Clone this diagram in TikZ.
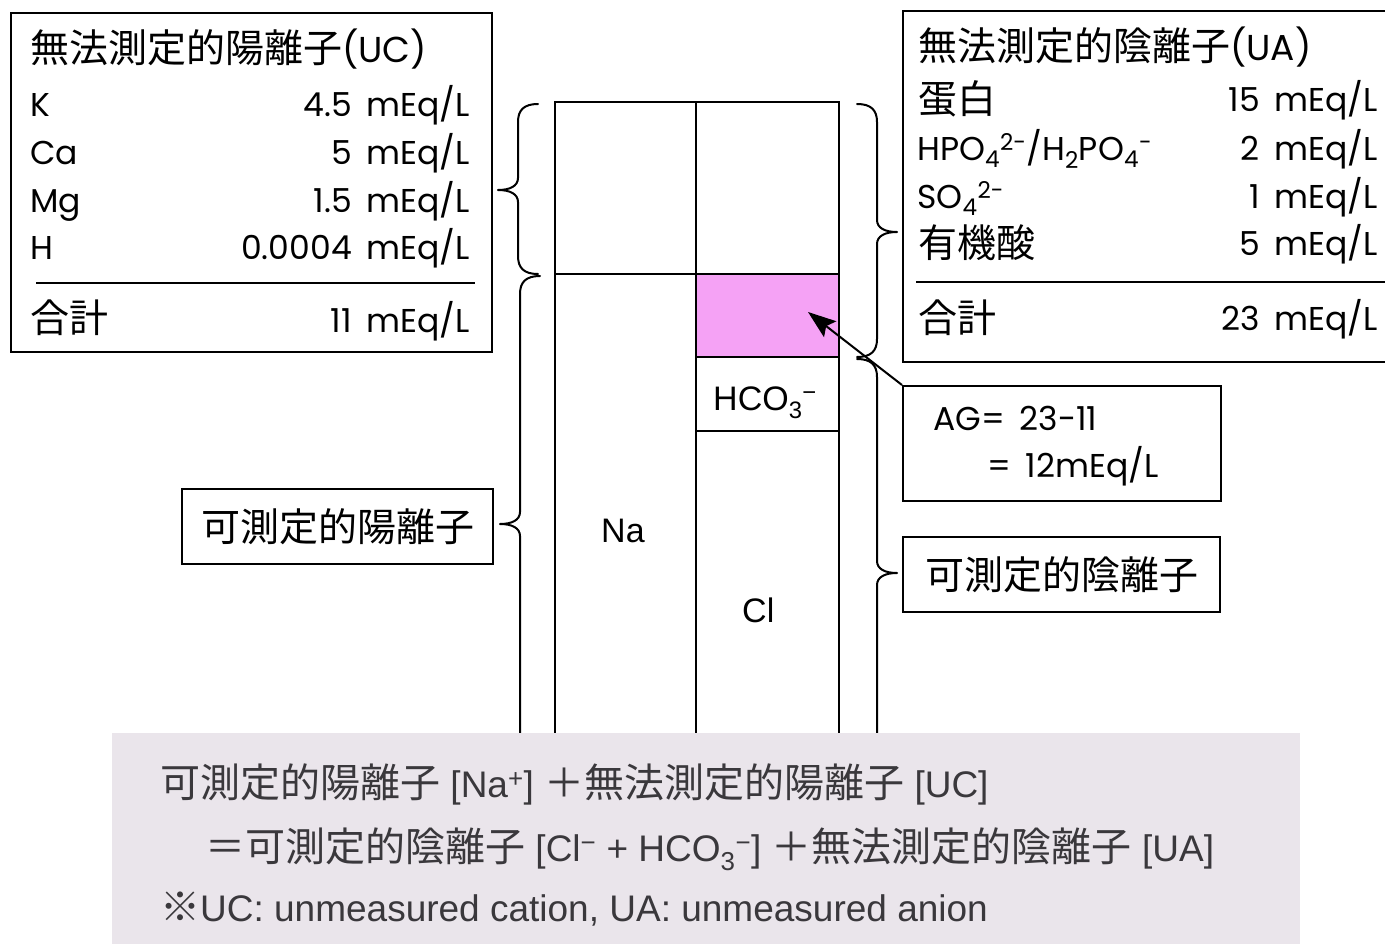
\documentclass[tikz,border=0pt]{standalone}
\usepackage{fontspec}
\setmainfont{Poppins}[Numbers=Monospaced]
\newfontfamily\jp{Noto Sans CJK JP}
\newfontfamily\hel{Liberation Sans}
\usetikzlibrary{arrows.meta}
\definecolor{agpink}{RGB}{245,162,245}
\definecolor{notebg}{RGB}{234,229,235}
\definecolor{notetxt}{RGB}{58,56,60}
\newcommand\ntj{\fontsize{40}{42}\selectfont\jp}
\newcommand\braceLeft[4]{%
  \draw[brc] ({#1+20},#2) .. controls ({#1+6},#2) and (#1,{#2+6}) .. (#1,{#2+18})
    -- (#1,{#3-12}) .. controls (#1,{#3-4}) and ({#1-8},#3) .. ({#1-20},#3)
    .. controls ({#1-8},#3) and (#1,{#3+4}) .. (#1,{#3+12})
    -- (#1,{#4-18}) .. controls (#1,{#4-6}) and ({#1+6},#4) .. ({#1+20},#4);}
\newcommand\braceRight[4]{%
  \draw[brc] ({#1-20},#2) .. controls ({#1-6},#2) and (#1,{#2+6}) .. (#1,{#2+18})
    -- (#1,{#3-12}) .. controls (#1,{#3-4}) and ({#1+8},#3) .. ({#1+20},#3)
    .. controls ({#1+8},#3) and (#1,{#3+4}) .. (#1,{#3+12})
    -- (#1,{#4-18}) .. controls (#1,{#4-6}) and ({#1-6},#4) .. ({#1-20},#4);}
\newcommand\unitsp{\hspace{0.45em}}
\begin{document}
\begin{tikzpicture}[x=1pt,y=-1pt,
  frame/.style={draw=black,line width=2pt,inner sep=0pt},
  col/.style={draw=black,line width=2.2pt},
  brc/.style={draw=black,line width=2pt,line join=round,line cap=round},
  tx/.style={inner sep=0pt,font=\fontsize{33}{38}\selectfont},
  cj/.style={inner sep=0pt,font=\fontsize{39}{44}\selectfont\jp},
  hv/.style={inner sep=0pt,font=\fontsize{34}{38}\selectfont\hel},
  nt/.style={inner sep=0pt,text=notetxt,font=\fontsize{37}{40}\selectfont\hel}
]
\useasboundingbox (0,0) rectangle (1385,943);
\clip (0,0) rectangle (1385,943);

% ---- column chart ----
\braceLeft{518}{104}{190}{274}
\braceLeft{520}{276}{524}{800}
\braceRight{877}{104}{232}{357}
\braceRight{877}{359}{573}{800}
\fill[agpink] (696,274) rectangle (839,357);
\draw[col] (555,800) -- (555,102) -- (839,102) -- (839,800);
\draw[col] (696,102) -- (696,800);
\draw[col] (555,274) -- (839,274);
\draw[col] (696,357) -- (839,357);
\draw[col] (696,431) -- (839,431);
\node[hv,anchor=base west] (hco) at (713,410) {HCO\textsubscript{3}\textsuperscript{−}};
\node[hv,anchor=base west] (na) at (601,542) {Na};
\node[hv,anchor=base west] (cl) at (742,622) {Cl};
\coordinate (agtip) at (808,312);

% ---- UC box ----
\node[frame,fill=white,minimum width=481pt,minimum height=339pt] (ucbox) at (251.5,182.5) {};
\node[cj,anchor=base west] (uct) at (30,62) {無法測定的陽離子{\rmfamily\fontsize{36}{40}\selectfont(UC)}};
\node[tx,anchor=base west] (uk) at (30,116) {K};
\node[tx,anchor=base east] (ukv) at (470,116) {4.5\unitsp mEq/L};
\node[tx,anchor=base west] (uca) at (30,164) {Ca};
\node[tx,anchor=base east] (ucav) at (470,164) {5\unitsp mEq/L};
\node[tx,anchor=base west] (umg) at (30,212) {Mg};
\node[tx,anchor=base east] (umgv) at (470,212) {1.5\unitsp mEq/L};
\node[tx,anchor=base west] (uh) at (30,259) {H};
\node[tx,anchor=base east] (uhv) at (470,259) {0.0004\unitsp mEq/L};
\draw[line width=2.2pt] (36,283) -- (475,283);
\node[cj,anchor=base west] (usum) at (30,332) {合計};
\node[tx,anchor=base east] (usumv) at (470,332) {11\unitsp mEq/L};

% ---- UA box ----
\node[frame,fill=white,minimum width=497pt,minimum height=351pt] (uabox) at (1151.5,186.5) {};
\node[cj,anchor=base west] (uat) at (918,60) {無法測定的陰離子{\rmfamily\fontsize{36}{40}\selectfont(UA)}};
\node[cj,anchor=base west] (ap) at (918,113) {蛋白};
\node[tx,anchor=base east] (apv) at (1378,111) {15\unitsp mEq/L};
\node[tx,anchor=base west] (ahpo) at (917,160) {HPO\textsubscript{4}\textsuperscript{2-}/H\textsubscript{2}PO\textsubscript{4}\textsuperscript{-}};
\node[tx,anchor=base east] (ahpov) at (1378,160) {2\unitsp mEq/L};
\node[tx,anchor=base west] (aso) at (917,208) {SO\textsubscript{4}\textsuperscript{2-}};
\node[tx,anchor=base east] (asov) at (1378,208) {1\unitsp mEq/L};
\node[cj,anchor=base west] (aorg) at (918,257) {有機酸};
\node[tx,anchor=base east] (aorgv) at (1378,255) {5\unitsp mEq/L};
\draw[line width=2.2pt] (916,282) -- (1390,282);
\node[cj,anchor=base west] (asum) at (918,332) {合計};
\node[tx,anchor=base east] (asumv) at (1378,330) {23\unitsp mEq/L};

% ---- AG box ----
\node[frame,minimum width=318pt,minimum height=115pt] (agbox) at (1062,443.5) {};
\node[tx,anchor=base west] (ag1) at (933,430) {AG=\unitsp 23-11};
\node[tx,anchor=base west] (ag2) at (987,477) {=\unitsp 12mEq/L};
\draw[line width=2pt,-{Stealth[length=28pt,width=20pt,inset=5pt]}] (agbox.north west) -- (agtip);

% ---- measurable boxes ----
\node[frame,cj,minimum width=311pt,minimum height=75pt] (mcat) at (337.5,526.5) {可測定的陽離子};
\node[frame,cj,minimum width=317pt,minimum height=75pt] (man) at (1061.5,574.5) {可測定的陰離子};

% ---- note ----
\node[fill=notebg,inner sep=0pt,minimum width=1188pt,minimum height=215pt,anchor=north west] (note) at (112,733) {};
\node[nt,anchor=base west] (n1) at (160,797) {{\ntj 可測定的陽離子} [Na\textsuperscript{+}] {\ntj ＋無法測定的陽離子} [UC]};
\node[nt,anchor=base west] (n2) at (205,861) {{\ntj ＝可測定的陰離子} [Cl\textsuperscript{−} + HCO\textsubscript{3}\textsuperscript{−}] {\ntj ＋無法測定的陰離子} [UA]};
\node[nt,anchor=base west] (n3) at (160,921) {{\ntj ※}UC: unmeasured cation, UA: unmeasured anion};
\end{tikzpicture}
\end{document}
